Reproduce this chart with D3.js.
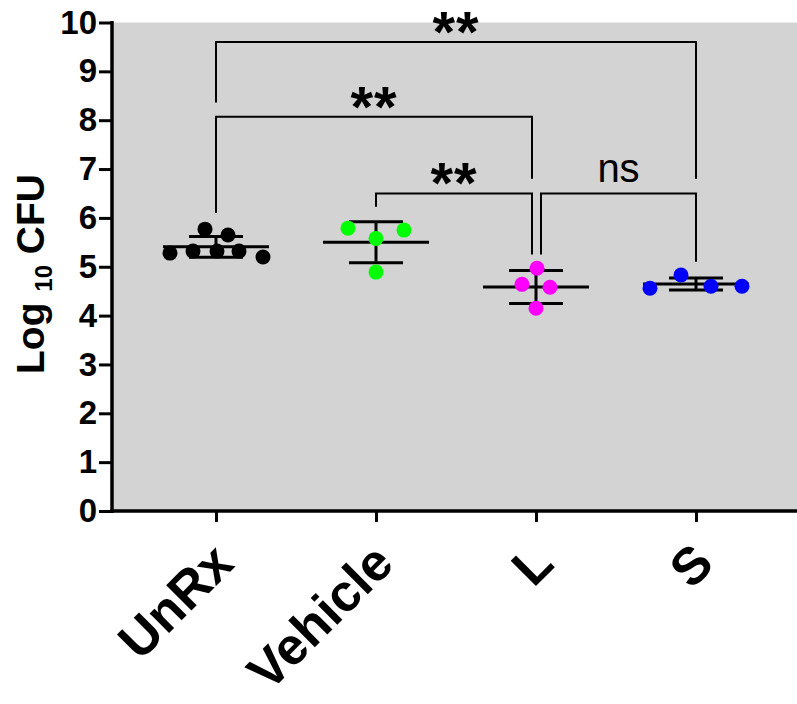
<!DOCTYPE html>
<html><head><meta charset="utf-8">
<script src="https://cdn.jsdelivr.net/npm/d3@7"></script>
<style>body{margin:0;background:#fff}svg{display:block}</style>
</head><body>
<svg id="c" width="797" height="704"></svg>
<script>
const categories = ["UnRx", "Vehicle", "L", "S"];
const colors = ["#000000", "#00ff00", "#ff00ff", "#0000ff"];
const unrxValues = [5.28, 5.32, 5.77, 5.32, 5.65, 5.32, 5.20];
const vehicleValues = [5.79, 5.75, 5.58, 4.89];
const lValues = [4.97, 4.64, 4.58, 4.15];
const sValues = [4.56, 4.83, 4.60, 4.60];
// horizontal scatter (jitter) in pixels for each point
const unrxJitter = [-46, -23, -11, 1, 12, 23, 47];
const vehicleJitter = [-28, 28, 0, 0];
const lJitter = [1, -14, 14, 0];
const sJitter = [-46, -15, 15, 46];
const yTicks = [0,1,2,3,4,5,6,7,8,9,10];
// significance brackets: [from, to, y, leftLegEnd, rightLegEnd, label]
const brackets = [
  ["UnRx", "S", 9.6, 8.36, 6.8, "**"],
  ["UnRx", "L", 8.07, 6.1, 6.8, "**"],
  ["Vehicle", "L", 6.5, 6.23, 5.25, "**"],
  ["L", "S", 6.5, 5.25, 5.1, "ns"]
];

const groups = [unrxValues, vehicleValues, lValues, sValues];
const jitters = [unrxJitter, vehicleJitter, lJitter, sJitter];
const FONT = "Liberation Sans, Arial, sans-serif";

const svg = d3.select("#c");
const x = d3.scalePoint().domain(categories).range([216, 696]);
const y = d3.scaleLinear().domain([0, 10]).range([511, 22.5]);

svg.append("rect").attr("x", 112).attr("y", y(10)).attr("width", 797-112).attr("height", y(0)-y(10)).attr("fill", "#d3d3d3");

// axes
const yAxis = svg.append("g").attr("transform", "translate(112,0)").call(d3.axisLeft(y).tickValues(yTicks).tickSize(13).tickPadding(2).tickFormat(d3.format("d")));
yAxis.select(".domain").remove();
yAxis.selectAll(".tick line").attr("stroke", "#000").attr("stroke-width", 3);
yAxis.selectAll(".tick text").attr("font-family", FONT).attr("font-weight", "bold").attr("font-size", 33).attr("fill", "#000");
svg.append("line").attr("x1", 112).attr("x2", 112).attr("y1", y(10)-1.5).attr("y2", y(0)+2).attr("stroke", "#000").attr("stroke-width", 3.5);

const xAxis = svg.append("g").attr("transform", `translate(0,${y(0)})`).call(d3.axisBottom(x).tickSize(11).tickFormat(""));
xAxis.select(".domain").remove();
xAxis.selectAll(".tick line").attr("stroke", "#000").attr("stroke-width", 3);
svg.append("line").attr("x1", 110).attr("x2", 797).attr("y1", y(0)).attr("y2", y(0)).attr("stroke", "#000").attr("stroke-width", 3.5);

// x labels
svg.append("g").selectAll("text").data(categories).join("text")
  .attr("transform", d => `translate(${x(d)+20},566) rotate(-45)`)
  .attr("text-anchor", "end")
  .attr("font-family", FONT).attr("font-weight", "bold").attr("font-size", 52)
  .text(d => d);

// y title
const yt = svg.append("text").attr("transform", `translate(44,274) rotate(-90)`).attr("text-anchor", "middle")
  .attr("font-family", FONT).attr("font-weight", "bold").attr("font-size", 39);
yt.append("tspan").text("Log ");
yt.append("tspan").attr("font-size", 24).attr("dy", 8).text("10");
yt.append("tspan").attr("dy", -8).text(" CFU");

// error bars and mean
categories.forEach((c, i) => {
  const vals = groups[i];
  const m = d3.mean(vals), sd = d3.deviation(vals);
  const g = svg.append("g").attr("stroke", "#000").attr("stroke-width", 3);
  g.append("line").attr("x1", x(c)).attr("x2", x(c)).attr("y1", y(m+sd)).attr("y2", y(m-sd));
  g.append("line").attr("x1", x(c)-27).attr("x2", x(c)+27).attr("y1", y(m+sd)).attr("y2", y(m+sd));
  g.append("line").attr("x1", x(c)-27).attr("x2", x(c)+27).attr("y1", y(m-sd)).attr("y2", y(m-sd));
  g.append("line").attr("x1", x(c)-53).attr("x2", x(c)+53).attr("y1", y(m)).attr("y2", y(m));
  svg.append("g").selectAll("circle").data(vals).join("circle")
    .attr("cx", (d, j) => x(c) + jitters[i][j]).attr("cy", d => y(d)).attr("r", 7.5).attr("fill", colors[i]);
});

// brackets
brackets.forEach(([a, b, yy, l1, l2, lab], i) => {
  let xa = x(a), xb = x(b);
  if (i === 1 || i === 2) xb -= 4;
  if (i === 3) xa += 5;
  svg.append("path").attr("d", `M${xa},${y(l1)}V${y(yy)}H${xb}V${y(l2)}`).attr("fill", "none").attr("stroke", "#000").attr("stroke-width", 2);
  const t = svg.append("text").attr("x", (xa+xb)/2).attr("text-anchor", "middle").attr("font-family", FONT).text(lab);
  if (lab === "ns") t.attr("y", y(yy) - 11).attr("font-size", 40);
  else t.attr("y", y(yy) + 10).attr("font-size", 58).attr("font-weight", "bold").attr("letter-spacing", 1);
});
</script>
</body></html>
